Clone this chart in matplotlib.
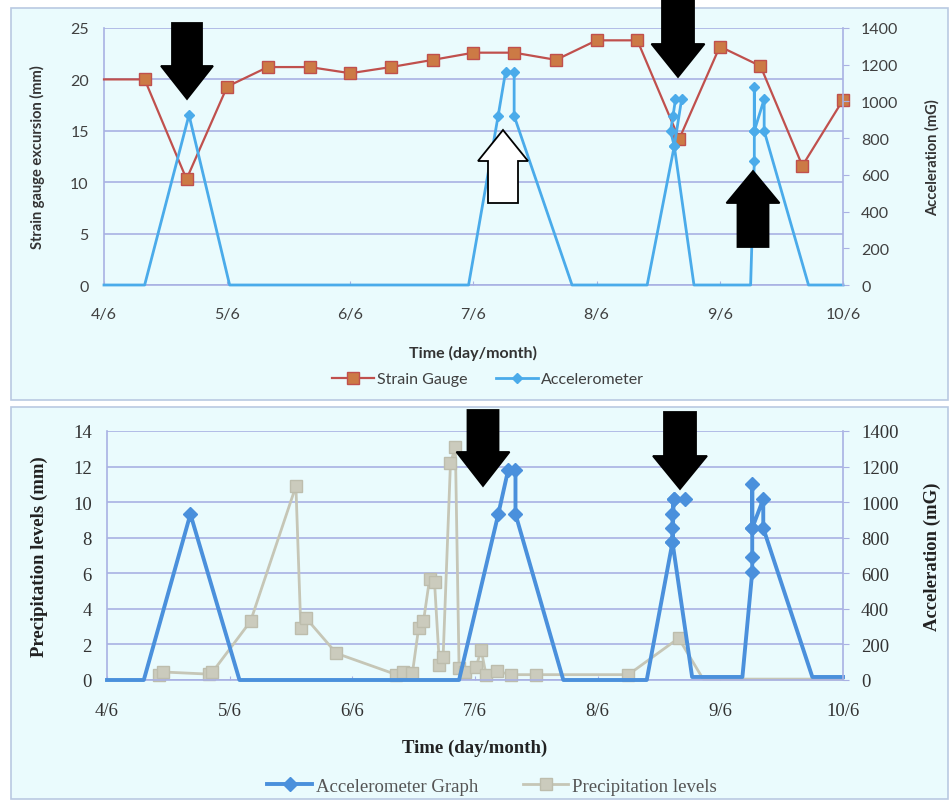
import matplotlib
matplotlib.use("Agg")
import matplotlib.pyplot as plt
from matplotlib.patches import Rectangle, Polygon
from matplotlib.lines import Line2D

W, H = 953, 804

# x positions are days after 4/6
day_ticks = [0, 1, 2, 3, 4, 5, 6]
day_labels = ["4/6", "5/6", "6/6", "7/6", "8/6", "9/6", "10/6"]

# top chart: strain gauge (mm)
sg_days = [0, 0.33, 0.67, 1.0, 1.33, 1.67, 2.0, 2.33, 2.67, 3.0, 3.33, 3.67,
           4.0, 4.33, 4.67, 5.0, 5.33, 5.67, 6.0]
sg_mm = [20.0, 20.0, 10.3, 19.3, 21.2, 21.2, 20.6, 21.2, 21.9, 22.6, 22.6, 21.9,
         23.8, 23.8, 14.2, 23.2, 21.3, 11.6, 18.0]

# top chart: accelerometer (mG)
acc1_days = [0, 0.33, 0.69, 1.02, 2.96, 3.20, 3.26, 3.33, 3.33, 3.80, 4.41,
             4.63, 4.60, 4.62, 4.64, 4.69, 4.63, 4.79, 5.25, 5.28, 5.28, 5.28,
             5.28, 5.36, 5.36, 5.72, 6.0]
acc1_mg = [0, 0, 926, 0, 0, 921, 1160, 1160, 921, 0, 0,
           757, 839, 921, 1013, 1013, 757, 0, 0, 675, 839, 1078,
           839, 1013, 839, 0, 0]

# bottom chart: accelerometer graph (mG)
acc2_days = [0, 0.30, 0.68, 1.08, 2.87, 3.19, 3.27, 3.33, 3.33, 3.72, 4.40,
             4.61, 4.61, 4.61, 4.62, 4.71, 4.62, 4.61, 4.77, 5.18, 5.26, 5.26,
             5.26, 5.26, 5.26, 5.35, 5.35, 5.75, 6.0]
acc2_mg = [0, 0, 933, 0, 0, 933, 1180, 1180, 933, 0, 0,
           775, 854, 933, 1017, 1017, 1017, 775, 17, 17, 607, 691,
           854, 1101, 854, 1017, 854, 17, 17]

# bottom chart: precipitation (mm)
precip_days = [0.42, 0.46, 0.83, 0.86, 1.17, 1.54, 1.58, 1.62, 1.87, 2.36, 2.41,
               2.49, 2.54, 2.58, 2.63, 2.67, 2.71, 2.74, 2.80, 2.84, 2.87, 2.92,
               3.01, 3.05, 3.09, 3.18, 3.29, 3.50, 4.25, 4.66, 4.86, 6.0]
precip_mm = [0.3, 0.45, 0.33, 0.45, 3.3, 10.9, 2.9, 3.5, 1.5, 0.3, 0.45,
             0.4, 2.9, 3.3, 5.7, 5.5, 0.85, 1.3, 12.2, 13.1, 0.7, 0.45,
             0.75, 1.7, 0.3, 0.5, 0.3, 0.3, 0.3, 2.35, 0.05, 0.05]

BG = "#EAFBFD"
GRID = "#A9B1E3"
FRAME = "#B9C9E2"


def fig_xy(x, y):
    return (x / W, 1 - y / H)


def px_axes(l, t, r, b):
    return [l / W, 1 - b / H, (r - l) / W, (b - t) / H]


def block_arrow(tx, ty, length, head, hw, sw, down=True, face="black"):
    d = 1 if down else -1
    pts = [(tx, ty), (tx - hw, ty - d * head), (tx - sw, ty - d * head),
           (tx - sw, ty - d * length), (tx + sw, ty - d * length),
           (tx + sw, ty - d * head), (tx + hw, ty - d * head)]
    poly = Polygon([fig_xy(x, y) for x, y in pts], closed=True,
                   transform=fig.transFigure, facecolor=face,
                   edgecolor="black", lw=1.3, zorder=10)
    fig.add_artist(poly)


def style_axes(ax, axr, fam, tcol):
    ax.set_facecolor("none")
    ax.set_xlim(0, 6)
    ax.set_xticks(day_ticks)
    ax.set_xticklabels(day_labels, family=fam)
    ax.grid(axis="y", color=GRID, lw=1.2)
    ax.set_axisbelow(True)
    for s in ["top", "right"]:
        ax.spines[s].set_visible(False)
    axr.spines["top"].set_visible(False)
    for s in ["left", "bottom"]:
        ax.spines[s].set_color(GRID)
        ax.spines[s].set_linewidth(1.2)
    axr.spines["right"].set_color(GRID)
    axr.spines["right"].set_linewidth(1.2)
    axr.spines["left"].set_visible(False)
    axr.spines["bottom"].set_visible(False)
    ax.tick_params(axis="y", length=0, pad=11, colors=tcol)
    ax.tick_params(axis="x", length=3, direction="in", color=GRID, pad=16,
                   colors=tcol)
    axr.tick_params(axis="y", length=4, color=GRID, pad=9, labelcolor=tcol)
    ax.tick_params(axis="x", colors=GRID, labelcolor=tcol)
    for lab in ax.get_yticklabels() + axr.get_yticklabels():
        lab.set_family(fam)


fig = plt.figure(figsize=(W / 100, H / 100), dpi=100)

# panel frames
fig.add_artist(Rectangle(fig_xy(11, 401), 937 / W, 392 / H, transform=fig.transFigure,
                         facecolor=BG, edgecolor=FRAME, lw=1.2, zorder=-1))
fig.add_artist(Rectangle(fig_xy(11, 800), 937 / W, 392 / H, transform=fig.transFigure,
                         facecolor=BG, edgecolor=FRAME, lw=1.2, zorder=-1))

# ---------------- top chart ----------------
sans = ["Lato", "DejaVu Sans"]
ax1 = fig.add_axes(px_axes(104, 29, 843, 286))
ax1r = ax1.twinx()
ax1.set_ylim(0, 25)
ax1.set_yticks([0, 5, 10, 15, 20, 25])
ax1r.set_ylim(0, 1400)
ax1r.set_yticks(range(0, 1401, 200))
for lab in [ax1, ax1r]:
    lab.tick_params(labelsize=11.5)
ax1.tick_params(axis="x", labelsize=11.5)
style_axes(ax1, ax1r, sans, "#404040")

ax1.plot(sg_days, sg_mm, color="#C0504D", lw=1.6, marker="s", ms=8.5,
         mfc="#CC7A45", mec="#C0504D", mew=1,
         markevery=list(range(1, len(sg_days))), clip_on=False, zorder=3)
acc1_marks = [i for i, v in enumerate(acc1_mg) if v > 20]
ax1r.plot(acc1_days, acc1_mg, color="#4AABEA", lw=2.0, marker="D", ms=5.5,
          mfc="#4AABEA", mec="#4AABEA", markevery=acc1_marks, clip_on=False)

ax1.set_xlabel("Time (day/month)", family=sans, fontsize=11.5, fontweight="bold",
               color="#333333")
ax1.xaxis.set_label_coords(0.5, -0.235)
ax1.set_ylabel("Strain gauge excursion (mm)", family=sans, fontsize=10.5,
               fontweight="bold", color="#333333")
ax1.yaxis.set_label_coords(-0.08, 0.5)
ax1r.set_ylabel("Acceleration (mG)", family=sans, fontsize=10.5,
                fontweight="bold", color="#333333")
ax1r.yaxis.set_label_coords(1.111, 0.5)

h1 = [Line2D([], [], color="#C0504D", lw=1.6, marker="s", ms=8.5, mfc="#CC7A45",
             mec="#C0504D"),
      Line2D([], [], color="#4AABEA", lw=2.0, marker="D", ms=5.5, mfc="#4AABEA",
             mec="#4AABEA")]
leg1 = ax1.legend(h1, ["Strain Gauge", "Accelerometer"], loc="center",
                  bbox_to_anchor=fig_xy(488, 380), bbox_transform=fig.transFigure,
                  ncol=2, frameon=False, handlelength=2.6, columnspacing=1.8,
                  handletextpad=0.2, prop={"family": sans, "size": 11.5})
for t in leg1.get_texts():
    t.set_color("#404040")

# ---------------- bottom chart ----------------
serif = ["Liberation Serif", "DejaVu Serif"]
ax2 = fig.add_axes(px_axes(107, 432, 843, 681))
ax2r = ax2.twinx()
ax2.set_ylim(0, 14)
ax2.set_yticks(range(0, 15, 2))
ax2r.set_ylim(0, 1400)
ax2r.set_yticks(range(0, 1401, 200))
for a in [ax2, ax2r]:
    a.tick_params(labelsize=13.5)
ax2.tick_params(axis="x", labelsize=13.5)
style_axes(ax2, ax2r, serif, "#333333")

ax2.plot(precip_days, precip_mm, color="#C6C6B6", lw=2.0, marker="s", ms=9,
         mfc="#CBCBBD", mec="#BDBDAD", markevery=list(range(0, 30)), clip_on=False)
acc2_marks = [i for i, v in enumerate(acc2_mg) if v > 20]
ax2r.plot(acc2_days, acc2_mg, color="#4A90DC", lw=2.8, marker="D", ms=7,
          mfc="#4A90DC", mec="#4A90DC", markevery=acc2_marks, clip_on=False)

ax2.set_xlabel("Time (day/month)", family=serif, fontsize=13.5, fontweight="bold",
               color="#222222")
ax2.xaxis.set_label_coords(0.5, -0.235)
ax2.set_ylabel("Precipitation levels (mm)", family=serif, fontsize=13.5,
               fontweight="bold", color="#222222")
ax2.yaxis.set_label_coords(-0.08, 0.5)
ax2r.set_ylabel("Acceleration (mG)", family=serif, fontsize=13.5,
                fontweight="bold", color="#222222")
ax2r.yaxis.set_label_coords(1.109, 0.5)

h2 = [Line2D([], [], color="#4A90DC", lw=2.8, marker="D", ms=7, mfc="#4A90DC",
             mec="#4A90DC"),
      Line2D([], [], color="#C6C6B6", lw=2.0, marker="s", ms=9, mfc="#CBCBBD",
             mec="#BDBDAD")]
leg2 = ax2.legend(h2, ["Accelerometer Graph", "Precipitation levels"], loc="center",
                  bbox_to_anchor=fig_xy(492, 787), bbox_transform=fig.transFigure,
                  ncol=2, frameon=False, handlelength=2.4, columnspacing=2.4,
                  handletextpad=0.2, prop={"family": serif, "size": 13.5})
for t in leg2.get_texts():
    t.set_color("#555555")

# event arrows
block_arrow(187, 100, 76, 33, 26, 15)
block_arrow(678, 78, 84, 33, 26.5, 16)
block_arrow(503, 131, 73, 31, 25, 15, down=False, face="white")
block_arrow(753, 172, 76, 32, 26.5, 15.5, down=False)
block_arrow(483, 487, 76, 34, 26.5, 15.5)
block_arrow(680, 490, 77, 33, 27, 16)

fig.savefig("out.png", dpi=100)
